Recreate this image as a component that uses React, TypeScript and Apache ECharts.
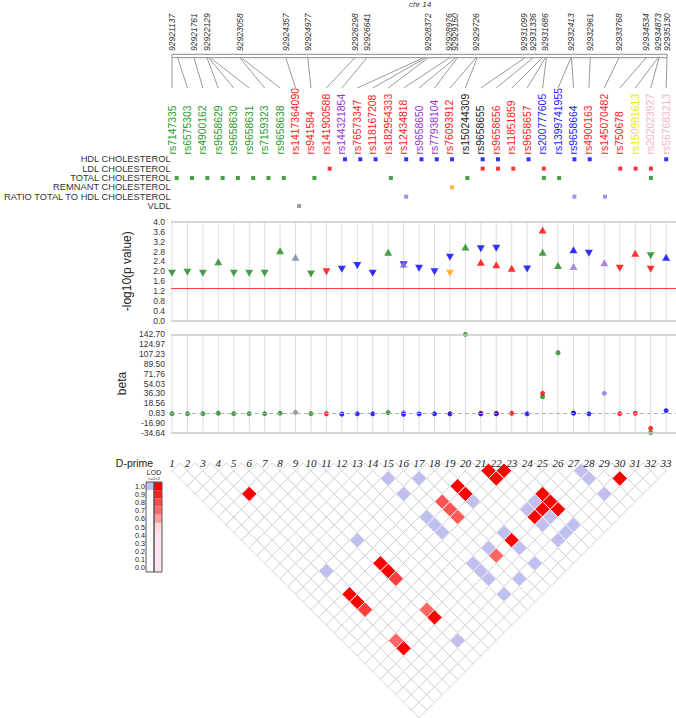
import React, { useEffect, useRef } from 'react';
import * as echarts from 'echarts';

// ---------- data ----------
const snpNames = ['rs7147335','rs6575303','rs4900162','rs9658629','rs9658630','rs9658631','rs7159323','rs9658638','rs1417364090','rs941584','rs141900588','rs144321854','rs76573347','rs118167208','rs182954333','rs12434818','rs9658650','rs77938104','rs76093912','rs150244309','rs9658655','rs9658656','rs11851859','rs9658657','rs200777605','rs1399741955','rs9658664','rs4900163','rs145070482','rs750678','rs150981613','rs202023927','rs567683213'];
const snpPositions = [92921137,92921300,92921761,92922129,92922180,92922230,92923058,92923100,92924357,92924977,92926298,92926641,92928230,92928300,92928372,92928976,92929150,92929200,92929726,92929760,92931099,92931336,92931600,92931686,92931720,92932413,92932430,92932961,92933768,92934534,92934873,92934900,92935130];
const labeledPositions = [92921137,92921761,92922129,92923058,92924357,92924977,92926298,92926641,92928372,92928976,92929150,92929726,92931099,92931336,92931686,92932413,92932961,92933768,92934534,92934873,92935130];
const traits = ['HDL CHOLESTEROL','LDL CHOLESTEROL','TOTAL CHOLESTEROL','REMNANT CHOLESTEROL','RATIO TOTAL TO HDL CHOLESTEROL','VLDL'];

const hdlCols = [12,13,14,16,17,18,19,21,22,24,27,28,33];
const hdlLogP = [2.08,2.23,1.92,2.26,2.12,1.98,2.57,2.91,2.93,2.09,2.87,2.73,2.57];
const hdlDir = [-1,-1,-1,-1,-1,-1,-1,-1,-1,-1,1,-1,1];
const hdlBeta = [-1.2,-0.6,-0.6,-1.5,-0.8,-0.6,-0.6,-0.6,-0.6,-0.6,0.8,-0.6,5.0];

const ldlCols = [11,21,22,23,25,30,31,32];
const ldlLogP = [1.98,2.37,2.26,2.12,3.68,2.12,2.73,2.08];
const ldlDir = [-1,1,1,1,1,-1,1,-1];
const ldlBeta = [-0.5,0.4,0.4,0.4,36.3,-0.4,0.4,-26.7];

const totalCols = [1,2,3,4,5,6,7,8,10,15,20,25,26,32];
const totalLogP = [1.92,1.96,1.92,2.39,1.92,1.92,1.92,2.83,1.89,2.77,2.98,2.77,2.23,2.63];
const totalDir = [-1,-1,-1,1,-1,-1,-1,1,-1,1,1,1,1,-1];
const totalBeta = [-0.3,-0.3,-0.3,0.4,-0.3,-0.3,-0.3,0.5,-0.3,1.5,142.7,30.2,109.5,-34.64];

const remnantCols = [19];
const remnantLogP = [1.92];
const remnantDir = [-1];
const remnantBeta = [-0.5];

const ratioCols = [16,27,29];
const ratioLogP = [2.28,2.19,2.35];
const ratioDir = [1,1,1];
const ratioBeta = [1.5,0.5,36.3];

const vldlCols = [9];
const vldlLogP = [2.57];
const vldlDir = [1];
const vldlBeta = [2.0];

const pThreshold = 1.3;
const pTicks = ['0.0','0.4','0.8','1.2','1.6','2.0','2.4','2.8','3.2','3.6','4.0'];
const betaTicks = ['-34.64','-16.90','0.83','18.56','36.30','54.03','71.76','89.50','107.23','124.97','142.70'];

// LD: [i, j, D'] with LOD > 2
const ldHighLod: number[][] = [
  [4,8,1],[8,21,1],[8,22,1],[8,23,0.85],[4,21,1],[4,22,1],[4,23,0.85],[4,27,0.75],[4,28,1],[8,27,0.75],[8,28,1],
  [21,22,1],[22,23,1],[21,23,1],[18,21,1],[18,22,1],[16,21,0.8],[16,22,0.8],[16,23,0.78],
  [23,27,1],[23,28,1],[23,29,1],[22,28,1],[21,28,1],[29,31,1],[18,28,1],[16,28,0.75]
];
// LD: [i, j] with D' = 1 and LOD <= 2
const ldLowLod: number[][] = [
  [14,16],[14,18],[16,18],[8,18],[4,18],[18,23],[14,21],[14,22],[14,23],[22,27],[21,27],[22,29],[21,29],
  [27,28],[27,29],[27,31],[21,31],[22,31],[23,31],[18,27],[18,29],[16,27],[14,27],[14,28],[14,29],[18,31],[16,31],[14,31],[8,31]
];
const legendLabels = ['1.0','0.9','0.8','0.7','0.6','0.5','0.4','0.3','0.2','0.1','0.0'];

// ---------- styles ----------
const FONT = "'Liberation Sans', Arial, sans-serif";
const SERIF = "'Liberation Serif', 'Times New Roman', serif";
const traitColors = ['#0000ff','#ff0000','#1a8a1a','#ffa500','#9370db','#778899'];
const snpNameColors = ['#2a9a2a','#2a9a2a','#2a9a2a','#2a9a2a','#2a9a2a','#2a9a2a','#2a9a2a','#2a9a2a','#ff1a1a','#ff1a1a','#ff1a1a','#9933cc','#ff1a1a','#ff1a1a','#ff1a1a','#ff1a1a','#9933cc','#9933cc','#ff1a1a','#222222','#222222','#ff1a1a','#ff1a1a','#ff1a1a','#1a1aff','#1a1aff','#1a1aff','#ff1a1a','#ff1a1a','#ff1a1a','#f2e600','#f4b4c8','#f4b4c8'];
const legendRed = ['#ff0000','#ff2020','#ff4a4a','#ff6a6a','#ff9e9e','#ffd8d8','#fde2f2','#fde2f2','#fde2f2','#fde2f2','#fde2f2'];
// drawing order of the trait series in the beta panel (later ones on top)
const betaDrawOrder = [3, 5, 4, 2, 1, 0];

const POS_MIN = labeledPositions[0];
const POS_MAX = labeledPositions[labeledPositions.length - 1];
const posToU = (p: number) => 1 + ((p - POS_MIN) / (POS_MAX - POS_MIN)) * 32.06;
const X_MIN = 0.935, X_MAX = 33.64;
const BETA_MIN = -34.64, BETA_STEP = 17.734;
const betaToU = (b: number) => (b - BETA_MIN) / BETA_STEP;

const traitData = [
  { cols: hdlCols, logP: hdlLogP, dir: hdlDir, beta: hdlBeta },
  { cols: ldlCols, logP: ldlLogP, dir: ldlDir, beta: ldlBeta },
  { cols: totalCols, logP: totalLogP, dir: totalDir, beta: totalBeta },
  { cols: remnantCols, logP: remnantLogP, dir: remnantDir, beta: remnantBeta },
  { cols: ratioCols, logP: ratioLogP, dir: ratioDir, beta: ratioBeta },
  { cols: vldlCols, logP: vldlLogP, dir: vldlDir, beta: vldlBeta },
];

function ldColor(i: number, j: number): string {
  const h = ldHighLod.find(r => r[0] === i && r[1] === j);
  if (h) {
    const d = h[2];
    if (d >= 0.95) return '#ff0000';
    const v = Math.min(255, Math.round(255 * (1 - d) * 1.6));
    const hx = v.toString(16).padStart(2, '0');
    return '#ff' + hx + hx;
  }
  if (ldLowLod.find(r => r[0] === i && r[1] === j)) return '#c0c0f0';
  return '#ffffff';
}

function buildOption(): any {
  const n = snpNames.length;
  const xAxes = [0, 1, 2, 3, 4].map(g => ({ type: 'value', gridIndex: g, min: X_MIN, max: X_MAX, show: false }));
  const series: any[] = [];

  const textStyle = (text: string, extra: any) => ({
    text, fontFamily: FONT, fill: '#333', align: 'left', verticalAlign: 'middle',
    textAlign: extra.align || 'left', textVerticalAlign: 'middle', ...extra,
  });

  // genomic position labels
  series.push({
    type: 'custom', xAxisIndex: 0, yAxisIndex: 0, silent: true,
    data: labeledPositions.map(p => [posToU(p), 51]),
    renderItem: (params: any, api: any) => {
      const pt = api.coord([api.value(0), api.value(1)]);
      return { type: 'text', x: pt[0], y: pt[1], rotation: Math.PI / 2,
        style: textStyle(String(labeledPositions[params.dataIndex]), { fontSize: 8.5, fontStyle: 'italic', fill: '#333' }) };
    },
  });
  // chromosome bar
  series.push({
    type: 'custom', xAxisIndex: 0, yAxisIndex: 0, silent: true,
    data: [[posToU(POS_MIN), posToU(POS_MAX)]],
    renderItem: (params: any, api: any) => {
      const a = api.coord([api.value(0), 54.3]);
      const b = api.coord([api.value(1), 57.7]);
      return { type: 'rect', shape: { x: a[0], y: a[1], width: b[0] - a[0], height: b[1] - a[1] },
        style: { fill: '#fff', stroke: '#8a8a8a', lineWidth: 1 } };
    },
  });
  // connectors
  series.push({
    type: 'custom', xAxisIndex: 0, yAxisIndex: 0, silent: true,
    data: snpPositions.map((p, i) => [posToU(p), i + 1]),
    renderItem: (params: any, api: any) => {
      const a = api.coord([api.value(0), 58]);
      const b = api.coord([api.value(1), 88]);
      return { type: 'line', shape: { x1: a[0], y1: a[1], x2: b[0], y2: b[1] }, style: { stroke: '#9a9a9a', lineWidth: 1 } };
    },
  });
  // SNP names
  series.push({
    type: 'custom', xAxisIndex: 0, yAxisIndex: 0, silent: true,
    data: snpNames.map((_, i) => [i + 1, 154.5]),
    renderItem: (params: any, api: any) => {
      const pt = api.coord([api.value(0), api.value(1)]);
      return { type: 'text', x: pt[0], y: pt[1], rotation: Math.PI / 2,
        style: textStyle(snpNames[params.dataIndex], { fontSize: 10.4, fill: snpNameColors[params.dataIndex] }) };
    },
  });

  // trait squares
  traitData.forEach((t, k) => {
    series.push({
      type: 'scatter', xAxisIndex: 1, yAxisIndex: 1, symbol: 'rect', symbolSize: 4, silent: true,
      itemStyle: { color: traitColors[k] },
      data: t.cols.map(c => [c, traits[k]]),
    });
  });

  const vline = (lo: number, hi: number) => (params: any, api: any) => {
    const x = api.value(0);
    const a = api.coord([x, lo]);
    const b = api.coord([x, hi]);
    return { type: 'line', shape: { x1: a[0], y1: a[1], x2: b[0], y2: b[1] }, style: { stroke: '#dcdcdc', lineWidth: 1 } };
  };
  const border = { color: '#c8c8c8', width: 1.6, type: 'solid' };

  // p-value panel
  series.push({
    type: 'custom', xAxisIndex: 2, yAxisIndex: 2, silent: true,
    data: snpNames.map((_, i) => [i + 1, 0]),
    renderItem: vline(0, 10),
    markLine: {
      silent: true, symbol: ['none', 'none'], label: { show: false },
      data: [
        { yAxis: 0, lineStyle: border },
        { yAxis: 10, lineStyle: border },
        { yAxis: pThreshold / 0.4, lineStyle: { color: '#ff4040', width: 1, type: 'solid' } },
      ],
    },
  });
  traitData.forEach((t, k) => {
    series.push({
      type: 'scatter', xAxisIndex: 2, yAxisIndex: 2, symbol: 'triangle', symbolSize: [8, 7], silent: true,
      itemStyle: { color: traitColors[k] },
      data: t.cols.map((c, m) => ({ value: [c, t.logP[m] / 0.4], symbolRotate: t.dir[m] < 0 ? 180 : 0 })),
    });
  });

  // beta panel
  series.push({
    type: 'custom', xAxisIndex: 3, yAxisIndex: 3, silent: true,
    data: snpNames.map((_, i) => [i + 1, 0]),
    renderItem: vline(0, 10),
    markLine: {
      silent: true, symbol: ['none', 'none'], label: { show: false },
      data: [
        { yAxis: 0, lineStyle: border },
        { yAxis: 10, lineStyle: border },
        { yAxis: betaToU(0), lineStyle: { color: '#b0b0b0', width: 1, type: [4, 3] } },
      ],
    },
  });
  betaDrawOrder.forEach(k => {
    const t = traitData[k];
    series.push({
      type: 'scatter', xAxisIndex: 3, yAxisIndex: 3, symbol: 'circle', symbolSize: 5, silent: true,
      itemStyle: { color: traitColors[k] },
      data: t.cols.map((c, m) => [c, betaToU(t.beta[m])]),
    });
  });

  // LD triangle
  const cells: { value: number[]; color: string }[] = [];
  for (let i = 1; i <= n; i++) {
    for (let j = i + 1; j <= n; j++) {
      cells.push({ value: [(i + j) / 2, j - i], color: ldColor(i, j) });
    }
  }
  cells.sort((a, b) => (a.color === '#ffffff' ? 0 : 1) - (b.color === '#ffffff' ? 0 : 1));
  series.push({
    type: 'custom', xAxisIndex: 4, yAxisIndex: 4, silent: true,
    data: cells.map(c => c.value),
    renderItem: (params: any, api: any) => {
      const c = api.value(0), d = api.value(1);
      const pts = [api.coord([c - 0.5, d]), api.coord([c, d - 1]), api.coord([c + 0.5, d]), api.coord([c, d + 1])];
      const col = cells[params.dataIndex].color;
      return { type: 'polygon', shape: { points: pts },
        style: { fill: col, stroke: col === '#ffffff' ? '#d4d4d4' : '#f0f0f0', lineWidth: 1 } };
    },
  });
  series.push({
    type: 'custom', xAxisIndex: 4, yAxisIndex: 4, silent: true,
    data: snpNames.map((_, i) => [i + 1, 0]),
    renderItem: (params: any, api: any) => {
      const pt = api.coord([api.value(0), api.value(1)]);
      return { type: 'text', x: pt[0], y: pt[1] - 0.5,
        style: { text: String(params.dataIndex + 1), fontFamily: SERIF, fontStyle: 'italic', fontSize: 11,
          fill: '#222', align: 'center', verticalAlign: 'middle', textAlign: 'center', textVerticalAlign: 'middle' } };
    },
  });

  // legend graphics
  const g: any[] = [];
  const gtext = (text: string, x: number, y: number, extra: any) => ({
    type: 'text', x, y, silent: true,
    style: { text, fontFamily: FONT, fill: '#222', align: 'center', verticalAlign: 'middle',
      textAlign: 'center', textVerticalAlign: 'middle', ...extra },
  });
  g.push(gtext('chr 14', 420, 4.5, { fontSize: 8, fontStyle: 'italic', fill: '#333' }));
  g.push(gtext('D-prime', 134.5, 463, { fontSize: 10.5 }));
  g.push(gtext('LOD', 154, 472.8, { fontSize: 7 }));
  g.push(gtext('<=2>2', 154, 478.6, { fontSize: 4.2 }));
  const rowH = 90 / 11;
  legendLabels.forEach((lab, k) => {
    const y = 482 + k * rowH;
    g.push({ type: 'rect', silent: true, shape: { x: 146, y, width: 8, height: rowH }, style: { fill: k === 0 ? '#c0c0f0' : '#ffffff' } });
    g.push({ type: 'rect', silent: true, shape: { x: 154, y, width: 8, height: rowH }, style: { fill: legendRed[k] } });
    g.push(gtext(lab, 145, y + rowH / 2, { fontSize: 7.2, align: 'right', textAlign: 'right' }));
  });
  g.push({ type: 'rect', silent: true, shape: { x: 146, y: 482, width: 8, height: 90 }, style: { fill: 'none', stroke: '#555', lineWidth: 1 } });
  g.push({ type: 'rect', silent: true, shape: { x: 154, y: 482, width: 8, height: 90 }, style: { fill: 'none', stroke: '#555', lineWidth: 1 } });

  const gridBase = { left: 171, width: 505 };
  return {
    animation: false,
    backgroundColor: '#ffffff',
    textStyle: { fontFamily: FONT },
    grid: [
      { ...gridBase, top: 0, height: 155 },
      { ...gridBase, top: 154.6, height: 56.1 },
      { ...gridBase, top: 222, height: 98.5 },
      { ...gridBase, top: 334.3, height: 98.4 },
      { ...gridBase, top: 463, height: 33 * 7.72 },
    ],
    xAxis: xAxes,
    yAxis: [
      { type: 'value', gridIndex: 0, min: 0, max: 155, inverse: true, show: false },
      { type: 'category', gridIndex: 1, data: traits, inverse: true,
        axisLine: { show: false }, axisTick: { show: false }, splitLine: { show: false },
        axisLabel: { interval: 0, fontSize: 9.3, color: '#333', margin: 5, fontFamily: FONT } },
      { type: 'value', gridIndex: 2, min: 0, max: 10, interval: 1,
        axisLine: { show: false }, axisTick: { show: false }, splitLine: { show: false },
        axisLabel: { fontSize: 8.5, color: '#333', margin: 6, fontFamily: FONT, formatter: (v: number) => pTicks[Math.round(v)] },
        name: '-log10(p value)', nameLocation: 'middle', nameGap: 38, nameRotate: 90,
        nameTextStyle: { fontSize: 12, color: '#222', fontFamily: FONT } },
      { type: 'value', gridIndex: 3, min: 0, max: 10, interval: 1,
        axisLine: { show: false }, axisTick: { show: false }, splitLine: { show: false },
        axisLabel: { fontSize: 8.5, color: '#333', margin: 6, fontFamily: FONT, formatter: (v: number) => betaTicks[Math.round(v)] },
        name: 'beta', nameLocation: 'middle', nameGap: 38, nameRotate: 90,
        nameTextStyle: { fontSize: 12, color: '#222', fontFamily: FONT } },
      { type: 'value', gridIndex: 4, min: 0, max: 33, inverse: true, show: false },
    ],
    graphic: { elements: g },
    series,
  };
}

export default function App() {
  const ref = useRef<HTMLDivElement>(null);
  useEffect(() => {
    if (!ref.current) return;
    const chart = echarts.init(ref.current, null, { renderer: 'svg' });
    chart.setOption(buildOption());
    return () => chart.dispose();
  }, []);
  return <div ref={ref} style={{ position: 'absolute', left: 0, top: 0, width: 676, height: 718, background: '#fff' }} />;
}
